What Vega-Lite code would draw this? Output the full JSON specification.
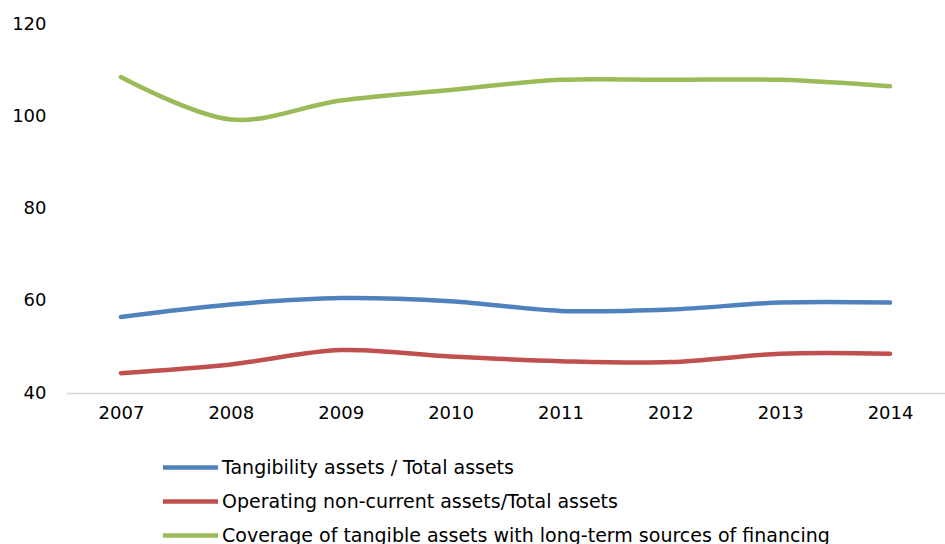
{
  "$schema": "https://vega.github.io/schema/vega-lite/v6.json",
  "width": 879,
  "height": 369,
  "autosize": "none",
  "padding": {"left": 66, "top": 24, "right": 0, "bottom": 151},
  "background": "white",
  "config": {"view": {"stroke": null}, "font": "DejaVu Sans"},
  "data": {"values": [
    {"year": "2007", "series": "Tangibility assets / Total assets", "value": 56.5},
    {"year": "2008", "series": "Tangibility assets / Total assets", "value": 59.2},
    {"year": "2009", "series": "Tangibility assets / Total assets", "value": 60.6},
    {"year": "2010", "series": "Tangibility assets / Total assets", "value": 59.9},
    {"year": "2011", "series": "Tangibility assets / Total assets", "value": 57.8},
    {"year": "2012", "series": "Tangibility assets / Total assets", "value": 58.1},
    {"year": "2013", "series": "Tangibility assets / Total assets", "value": 59.6},
    {"year": "2014", "series": "Tangibility assets / Total assets", "value": 59.6},
    {"year": "2007", "series": "Operating non-current assets/Total assets", "value": 44.3},
    {"year": "2008", "series": "Operating non-current assets/Total assets", "value": 46.2},
    {"year": "2009", "series": "Operating non-current assets/Total assets", "value": 49.3},
    {"year": "2010", "series": "Operating non-current assets/Total assets", "value": 47.9},
    {"year": "2011", "series": "Operating non-current assets/Total assets", "value": 46.9},
    {"year": "2012", "series": "Operating non-current assets/Total assets", "value": 46.7},
    {"year": "2013", "series": "Operating non-current assets/Total assets", "value": 48.5},
    {"year": "2014", "series": "Operating non-current assets/Total assets", "value": 48.5},
    {"year": "2007", "series": "Coverage of tangible assets with long-term sources of financing", "value": 108.5},
    {"year": "2008", "series": "Coverage of tangible assets with long-term sources of financing", "value": 99.3},
    {"year": "2009", "series": "Coverage of tangible assets with long-term sources of financing", "value": 103.4},
    {"year": "2010", "series": "Coverage of tangible assets with long-term sources of financing", "value": 105.7},
    {"year": "2011", "series": "Coverage of tangible assets with long-term sources of financing", "value": 107.9},
    {"year": "2012", "series": "Coverage of tangible assets with long-term sources of financing", "value": 107.9},
    {"year": "2013", "series": "Coverage of tangible assets with long-term sources of financing", "value": 107.9},
    {"year": "2014", "series": "Coverage of tangible assets with long-term sources of financing", "value": 106.5}
  ]},
  "mark": {"type": "line", "interpolate": "catmull-rom", "strokeWidth": 4.5, "strokeCap": "round"},
  "encoding": {
    "x": {"field": "year", "type": "ordinal", "scale": {"paddingInner": 0, "paddingOuter": 0.5},
      "axis": {"title": null, "labelAngle": 0, "ticks": false, "domainColor": "#d9d9d9", "domainWidth": 1.5, "labelFontSize": 18, "labelColor": "#000", "labelPadding": 11, "grid": false}},
    "y": {"field": "value", "type": "quantitative", "scale": {"domain": [40, 120], "nice": false, "zero": false},
      "axis": {"title": null, "values": [40, 60, 80, 100, 120], "domain": false, "ticks": false, "grid": false, "labelFontSize": 18, "labelColor": "#000", "labelPadding": 20}},
    "color": {"field": "series", "type": "nominal",
      "sort": ["Tangibility assets / Total assets", "Operating non-current assets/Total assets", "Coverage of tangible assets with long-term sources of financing"],
      "scale": {"domain": ["Tangibility assets / Total assets", "Operating non-current assets/Total assets", "Coverage of tangible assets with long-term sources of financing"], "range": ["#4F81BD", "#C0504D", "#9BBB59"]},
      "legend": {"title": null, "orient": "none", "legendX": 115, "legendY": 434, "symbolType": "M-4,0H4", "symbolSize": 190, "symbolStrokeWidth": 4.5, "symbolFillColor": "transparent", "labelFontSize": 19, "labelColor": "#000", "rowPadding": 14, "labelOffset": 22, "labelLimit": 800}}
  }
}
